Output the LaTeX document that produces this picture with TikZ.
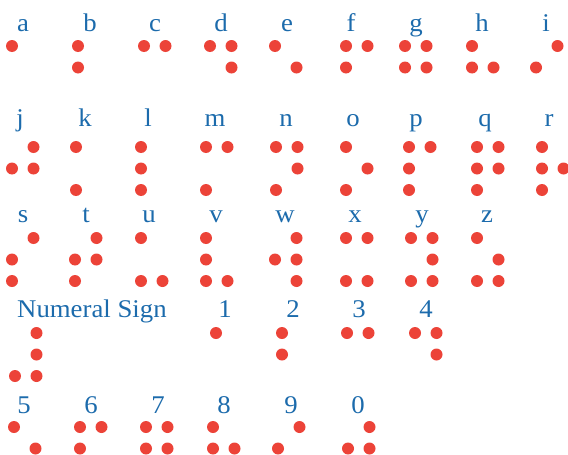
\documentclass[tikz,border=0pt]{standalone}
\usepackage{fontspec}
\setmainfont{Liberation Serif}[FakeStretch=1.05]
\usepackage{xcolor}
\definecolor{dotRed}{HTML}{EC4338}
\definecolor{labelBlue}{HTML}{1C6BAC}

% one braille cell: left dot x, top dot y, raised dots
\newcommand{\brcell}[3]{%
  \foreach \d in {#3} {
    \pgfmathtruncatemacro{\bcol}{\d>3}
    \pgfmathtruncatemacro{\brow}{mod(\d-1,3)}
    \fill[dotRed] ({#1+21.5*\bcol},{#2+21.5*\brow}) circle (6pt);
  }}

\begin{document}
\begin{tikzpicture}[x=1pt, y=-1pt,
    lbl/.style={text=labelBlue, anchor=base, inner sep=0pt, font=\fontsize{25.5}{28}\selectfont}]
    \useasboundingbox (0,0) rectangle (568,455);
    % a -- i
    \node[lbl] (la) at (23,31) {a};   \brcell{12}{46}{1}
    \node[lbl] (lb) at (90,31) {b};   \brcell{78}{46}{1,2}
    \node[lbl] (lc) at (155,31) {c};  \brcell{144}{46}{1,4}
    \node[lbl] (ld) at (221,31) {d};  \brcell{210}{46}{1,4,5}
    \node[lbl] (le) at (287,31) {e};  \brcell{275}{46}{1,5}
    \node[lbl] (lf) at (351,31) {f};  \brcell{346}{46}{1,2,4}
    \node[lbl] (lg) at (416,31) {g};  \brcell{405}{46}{1,2,4,5}
    \node[lbl] (lh) at (482,31) {h};  \brcell{472}{46}{1,2,5}
    \node[lbl] (li) at (546,31) {i};  \brcell{536}{46}{2,4}
    % j -- r
    \node[lbl] (lj) at (20,126) {j};  \brcell{12}{147}{2,4,5}
    \node[lbl] (lk) at (85,126) {k};  \brcell{76}{147}{1,3}
    \node[lbl] (ll) at (148,126) {l}; \brcell{141}{147}{1,2,3}
    \node[lbl] (lm) at (215,126) {m}; \brcell{206}{147}{1,3,4}
    \node[lbl] (ln) at (286,126) {n}; \brcell{276}{147}{1,3,4,5}
    \node[lbl] (lo) at (353,126) {o}; \brcell{346}{147}{1,3,5}
    \node[lbl] (lp) at (416,126) {p}; \brcell{409}{147}{1,2,3,4}
    \node[lbl] (lq) at (485,126) {q}; \brcell{477}{147}{1,2,3,4,5}
    \node[lbl] (lr) at (549,126) {r}; \brcell{542}{147}{1,2,3,5}
    % s -- z
    \node[lbl] (ls) at (23,222) {s};  \brcell{12}{238}{2,3,4}
    \node[lbl] (lt) at (86,222) {t};  \brcell{75}{238}{2,3,4,5}
    \node[lbl] (lu) at (149,222) {u}; \brcell{141}{238}{1,3,6}
    \node[lbl] (lv) at (216,222) {v}; \brcell{206}{238}{1,2,3,6}
    \node[lbl] (lw) at (285,222) {w}; \brcell{275}{238}{2,4,5,6}
    \node[lbl] (lx) at (355,222) {x}; \brcell{346}{238}{1,3,4,6}
    \node[lbl] (ly) at (422,222) {y}; \brcell{411}{238}{1,3,4,5,6}
    \node[lbl] (lz) at (487,222) {z}; \brcell{477}{238}{1,3,5,6}
    % numeral sign, 1 -- 4
    \node[lbl, anchor=base west] (lnum) at (17,317) {Numeral Sign};
    \brcell{15}{333}{3,4,5,6}
    \node[lbl] (l1) at (225,317) {1}; \brcell{216}{333}{1}
    \node[lbl] (l2) at (293,317) {2}; \brcell{282}{333}{1,2}
    \node[lbl] (l3) at (359,317) {3}; \brcell{347}{333}{1,4}
    \node[lbl] (l4) at (426,317) {4}; \brcell{415}{333}{1,4,5}
    % 5 -- 0
    \node[lbl] (l5) at (24,413) {5};  \brcell{14}{427}{1,5}
    \node[lbl] (l6) at (91,413) {6};  \brcell{80}{427}{1,2,4}
    \node[lbl] (l7) at (158,413) {7}; \brcell{146}{427}{1,2,4,5}
    \node[lbl] (l8) at (224,413) {8}; \brcell{213}{427}{1,2,5}
    \node[lbl] (l9) at (291,413) {9}; \brcell{278}{427}{2,4}
    \node[lbl] (l0) at (358,413) {0}; \brcell{348}{427}{2,4,5}
\end{tikzpicture}
\end{document}
